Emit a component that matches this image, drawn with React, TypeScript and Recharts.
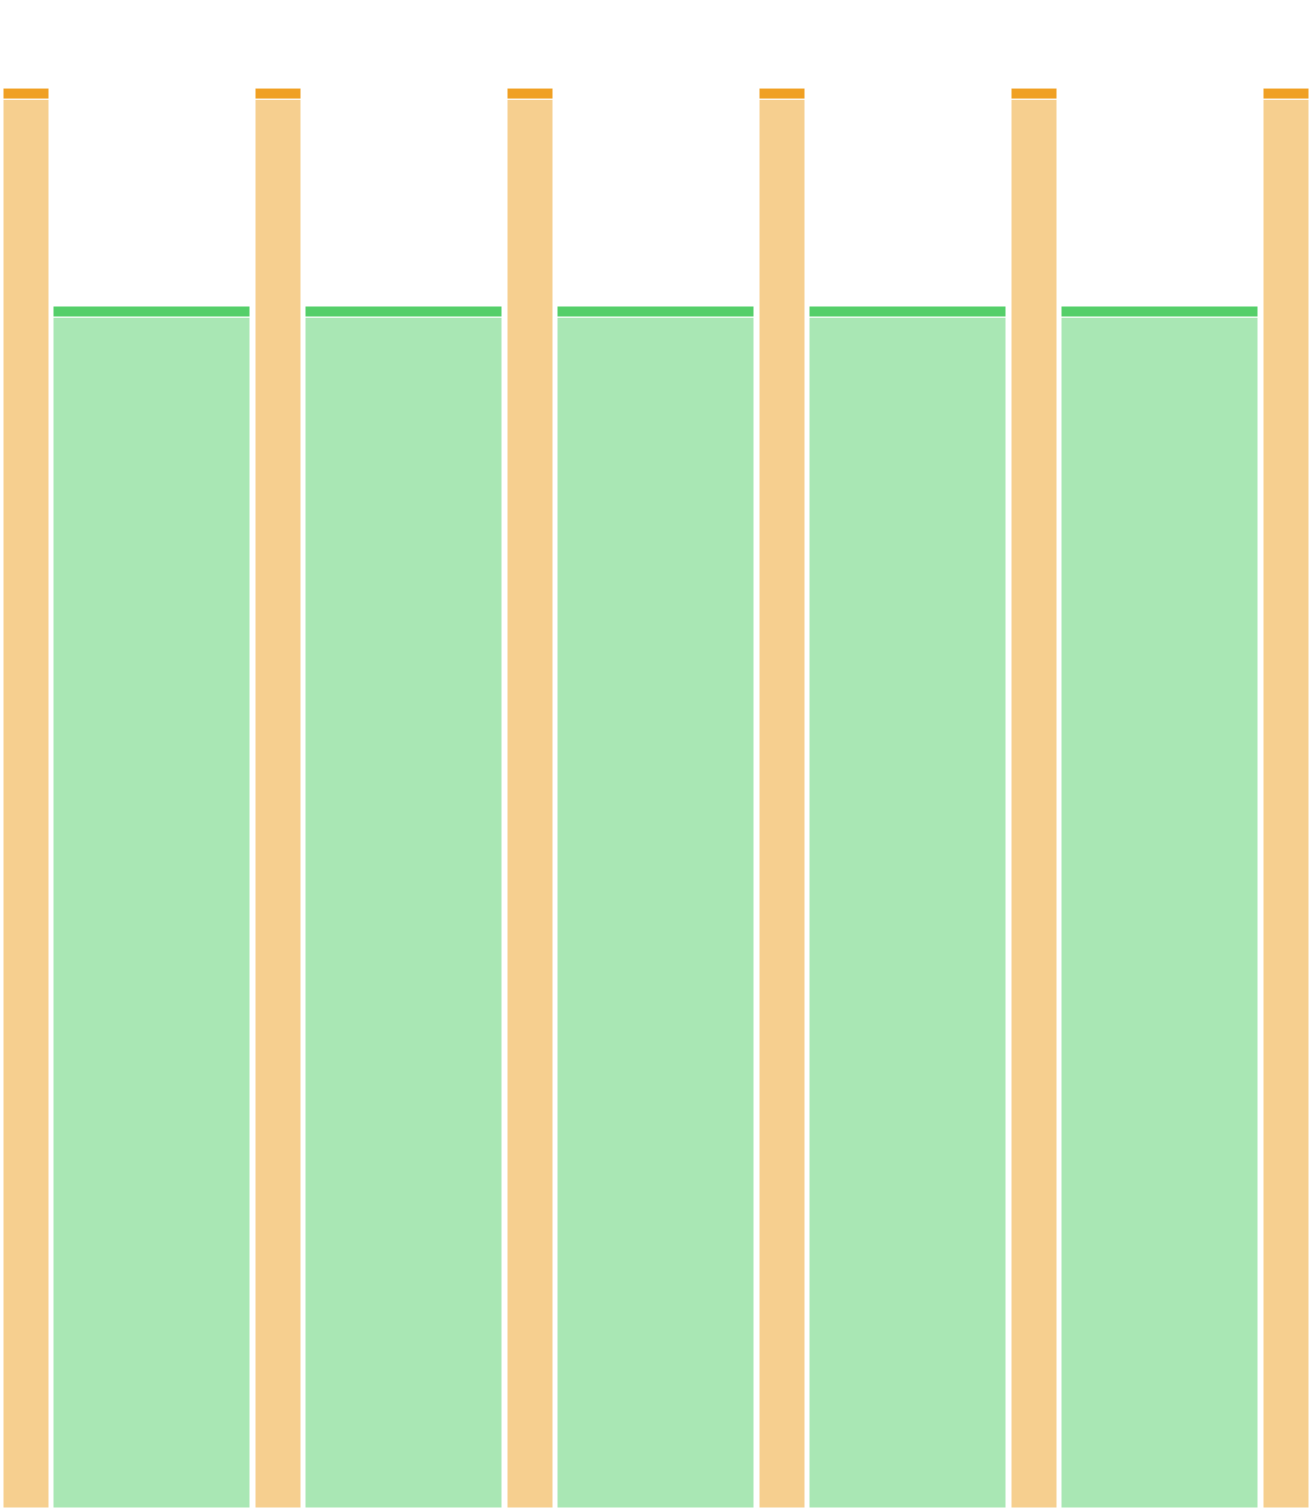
import { BarChart, Bar, XAxis, YAxis } from 'recharts';

const categories = ['A', 'B', 'C', 'D', 'E', 'F'];
const orangeBase = [128, 128, 128, 128, 128, 128];
const orangeCap = [1, 1, 1, 1, 1, 1];
const greenBase = [108.2, 108.2, 108.2, 108.2, 108.2, 108.2];
const greenCap = [1, 1, 1, 1, 1, 1];

const data = categories.map((name, i) => ({
  name,
  orangeBase: orangeBase[i],
  orangeCap: orangeCap[i],
  greenBase: greenBase[i],
  greenCap: greenCap[i],
}));

export default function App() {
  return (
    <div
      style={{
        position: 'absolute',
        left: 0,
        top: 0,
        width: 1312,
        height: 1508,
        overflow: 'hidden',
        background: '#fff',
      }}
    >
      <BarChart
        width={1512}
        height={1508}
        data={data}
        margin={{ top: 0, right: 0, left: 0, bottom: 0 }}
        barGap={4}
      >
        <XAxis dataKey="name" hide />
        <YAxis hide domain={[0, 137]} />
        <Bar
          dataKey="orangeBase"
          stackId="orange"
          barSize={46}
          fill="#F6CF8F"
          stroke="#fff"
          strokeWidth={1}
          isAnimationActive={false}
        />
        <Bar
          dataKey="orangeCap"
          stackId="orange"
          fill="#F0A023"
          stroke="#fff"
          strokeWidth={1}
          isAnimationActive={false}
        />
        <Bar
          dataKey="greenBase"
          stackId="green"
          barSize={197}
          fill="#A9E7B4"
          stroke="#fff"
          strokeWidth={1}
          isAnimationActive={false}
        />
        <Bar
          dataKey="greenCap"
          stackId="green"
          fill="#55CF6A"
          stroke="#fff"
          strokeWidth={1}
          isAnimationActive={false}
        />
      </BarChart>
    </div>
  );
}
